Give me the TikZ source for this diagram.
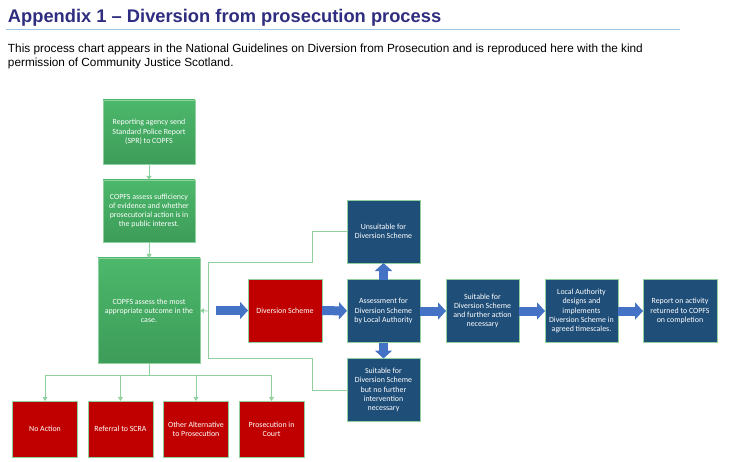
\documentclass[tikz,border=0pt]{standalone}
\usepackage{fontspec}
\setmainfont{Liberation Sans}
\newfontfamily\boxfont{Carlito}
\usetikzlibrary{arrows.meta}

\definecolor{c2e2d7f}{RGB}{46,45,127}
\definecolor{c9dc3e6}{RGB}{157,195,230}
\definecolor{c4cb86b}{RGB}{76,184,107}
\definecolor{c3d9c59}{RGB}{61,156,89}
\definecolor{cc00000}{RGB}{192,0,0}
\definecolor{c1f4e79}{RGB}{31,78,121}
\definecolor{c4472c4}{RGB}{68,114,196}
\definecolor{c8fd19e}{RGB}{143,209,158}

\begin{document}
\begin{tikzpicture}[x=1pt, y=-1pt, inner sep=0pt, outer sep=0pt,
  procbox/.style={draw=c8fd19e, line width=0.6pt, text=white, align=center,
    font=\boxfont\fontsize{7.9}{9.2}\selectfont},
  greenbox/.style={procbox, top color=c4cb86b, bottom color=c3d9c59},
  redbox/.style={procbox, fill=cc00000},
  bluebox/.style={procbox, fill=c1f4e79, minimum width=73pt, minimum height=63pt},
  outcomebox/.style={redbox, minimum width=65pt, minimum height=56pt},
  link/.style={draw=c8fd19e, line width=0.8pt},
  linkarrow/.style={link, -{Triangle[length=4pt,width=5pt]}},
  blockarrow/.style={draw=c4472c4, line width=9pt, -{Triangle[length=8pt,width=17pt]}}]
  \useasboundingbox (0,0) rectangle (733,462);

  % heading
  \node[anchor=base west, text=c2e2d7f, font=\bfseries\fontsize{18.3}{21}\selectfont] (title) at (8,22.5)
    {Appendix 1 – Diversion from prosecution process};
  \draw[c9dc3e6, line width=0.8pt] (6,29) -- (680,29);
  \node[anchor=base west, font=\fontsize{11.8}{14}\selectfont] (intro1) at (8,53)
    {This process chart appears in the National Guidelines on Diversion from Prosecution and is reproduced here with the kind};
  \node[anchor=base west, font=\fontsize{11.8}{14}\selectfont] (intro2) at (8,67)
    {permission of Community Justice Scotland.};

  % COPFS column
  \node[greenbox, minimum width=92pt, minimum height=64pt] (spr) at (149,132)
    {Reporting agency send\\Standard Police Report\\(SPR) to COPFS};
  \node[greenbox, minimum width=92pt, minimum height=62pt] (evidence) at (149,211)
    {COPFS assess sufficiency\\of evidence and whether\\prosecutorial action is in\\the public interest.};
  \node[greenbox, minimum width=102pt, minimum height=105pt] (outcome) at (149,310.5)
    {COPFS assess the most\\appropriate outcome in the\\case.};

  % diversion row
  \node[redbox, minimum width=74pt, minimum height=63pt] (divscheme) at (285,310.5) {Diversion Scheme};
  \node[bluebox] (unsuitable) at (383.5,231.5) {Unsuitable for\\Diversion Scheme};
  \node[bluebox] (laassess) at (383.5,311) {Assessment for\\Diversion Scheme\\by Local Authority};
  \node[bluebox] (nofurther) at (383.5,390) {Suitable for\\Diversion Scheme\\but no further\\intervention\\necessary};
  \node[bluebox] (further) at (482.5,311) {Suitable for\\Diversion Scheme\\and further action\\necessary};
  \node[bluebox] (ladesign) at (581.5,311) {Local Authority\\designs and\\implements\\Diversion Scheme in\\agreed timescales.};
  \node[bluebox, minimum width=74pt] (reportback) at (680,311) {Report on activity\\returned to COPFS\\on completion};

  % outcomes
  \node[outcomebox] (noaction) at (45,429) {No Action};
  \node[outcomebox] (scra) at (120.5,429) {Referral to SCRA};
  \node[outcomebox] (otheralt) at (196,429) {Other Alternative\\to Prosecution};
  \node[outcomebox] (court) at (271.5,429) {Prosecution in\\Court};

  % green connectors
  \draw[linkarrow] (spr) -- (evidence);
  \draw[linkarrow] (evidence) -- (outcome);
  \coordinate (merge) at (208,311);
  \draw[link] (unsuitable.west) -- ++(-35,0) -- ++(0,31) -| (merge);
  \draw[link] (nofurther.west) -- ++(-35,0) -- ++(0,-32) -| (merge);
  \draw[linkarrow] (merge) -- (outcome.east);
  \draw[link] (outcome.south) -- ++(0,12) coordinate (split);
  \foreach \target in {noaction,scra,otheralt,court}
    \draw[linkarrow] (split) -| (\target.north);

  % block arrows
  \draw[blockarrow, shorten <=16pt] (outcome.east) -- (divscheme.west);
  \draw[blockarrow] (divscheme) -- (laassess);
  \draw[blockarrow] (laassess) -- (unsuitable);
  \draw[blockarrow] (laassess) -- (nofurther);
  \draw[blockarrow] (laassess) -- (further);
  \draw[blockarrow] (further) -- (ladesign);
  \draw[blockarrow] (ladesign) -- (reportback);
\end{tikzpicture}
\end{document}
